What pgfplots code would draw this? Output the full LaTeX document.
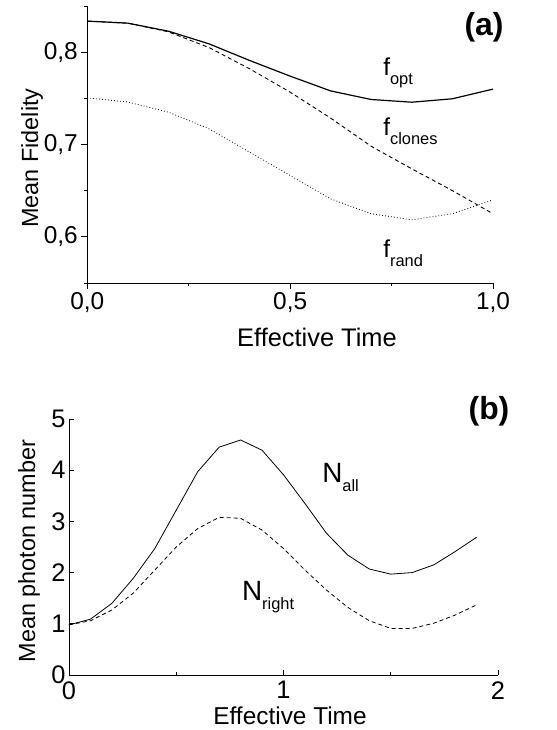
\documentclass[border=0pt]{standalone}
\usepackage{pgfplots}
\pgfplotsset{compat=1.18}
\usepackage{fontspec}
\setmainfont{Liberation Sans}

\newcommand\sub[1]{\raisebox{-9bp}{\fontsize{16.5}{16.5}\selectfont #1}}

\begin{document}
\begin{tikzpicture}[x=1bp,y=1bp]
\useasboundingbox (0,0) rectangle (557,730);

% panel (a)
\begin{axis}[scale only axis,width=405.7bp,height=277bp,
    at={(87.3bp,447bp)},anchor=south west,
    xmin=0,xmax=1,ymin=0.55,ymax=0.85,
    axis x line*=bottom,axis y line*=left,
    axis line style={line width=0.9bp},
    xtick={0,0.5,1},minor xtick={0.25,0.75},
    ytick={0.6,0.7,0.8},minor ytick={0.55,0.65,0.75,0.85},
    tick align=outside,major tick length=6bp,minor tick length=3bp,
    tick style={line width=0.9bp,black},
    /pgf/number format/assume math mode=true,
    /pgf/number format/use comma,/pgf/number format/fixed,
    /pgf/number format/fixed zerofill,/pgf/number format/precision=1,
    tick label style={font=\fontsize{24.5}{27}\selectfont},
    clip=false]
\addplot[black,line width=1.2bp] coordinates
  {(0,0.8336)(0.1,0.8314)(0.2,0.8227)(0.3,0.809)(0.4,0.791)(0.5,0.774)
   (0.6,0.758)(0.7,0.7487)(0.8,0.7458)(0.9,0.7495)(1.0,0.760)};
\addplot[black,line width=0.9bp,dash pattern=on 4bp off 3bp] coordinates
  {(0,0.8336)(0.1,0.8314)(0.2,0.8220)(0.3,0.805)(0.4,0.782)(0.5,0.7567)
   (0.6,0.7285)(0.7,0.698)(0.8,0.6736)(0.9,0.650)(1.0,0.625)};
\addplot[black,line width=0.8bp,dash pattern=on 0.8bp off 2.2bp] coordinates
  {(0,0.7505)(0.1,0.746)(0.2,0.735)(0.3,0.717)(0.4,0.6917)(0.5,0.6664)
   (0.6,0.641)(0.7,0.625)(0.8,0.6184)(0.9,0.625)(1.0,0.640)};
\node[anchor=base west,inner sep=0pt,font=\fontsize{24.5}{24.5}\selectfont] at (axis cs:0.729,0.7743) {f\sub{opt}};
\node[anchor=base west,inner sep=0pt,font=\fontsize{24.5}{24.5}\selectfont] at (axis cs:0.729,0.7092) {f\sub{clones}};
\node[anchor=base west,inner sep=0pt,font=\fontsize{24.5}{24.5}\selectfont] at (axis cs:0.729,0.578) {f\sub{rand}};
\end{axis}

% panel (b)
\begin{axis}[scale only axis,width=429bp,height=256bp,
    at={(69bp,55bp)},anchor=south west,
    xmin=0,xmax=2,ymin=0,ymax=5,
    axis x line*=bottom,axis y line*=left,
    axis line style={line width=0.9bp},
    xtick={0,1,2},minor xtick={0.5,1.5},
    ytick={0,1,2,3,4,5},
    tick align=inside,major tick length=5bp,minor tick length=3bp,
    tick style={line width=0.9bp,black},
    /pgf/number format/assume math mode=true,
    tick label style={font=\fontsize{25.5}{28}\selectfont},
    xticklabel style={yshift=-3bp},
    yticklabel style={xshift=0bp},
    clip=false]
\addplot[black,line width=0.8bp] coordinates
  {(0,0.98)(0.1,1.09)(0.2,1.40)(0.3,1.89)(0.4,2.47)(0.5,3.22)(0.6,3.97)
   (0.7,4.45)(0.8,4.59)(0.9,4.39)(1.0,3.91)(1.1,3.35)(1.2,2.77)(1.3,2.34)
   (1.4,2.07)(1.5,1.97)(1.6,2.00)(1.7,2.15)(1.8,2.41)(1.9,2.69)};
\addplot[black,line width=0.8bp,dash pattern=on 4bp off 3bp] coordinates
  {(0,0.98)(0.1,1.06)(0.2,1.27)(0.3,1.60)(0.4,2.05)(0.5,2.50)(0.6,2.86)
   (0.7,3.08)(0.8,3.06)(0.9,2.83)(1.0,2.47)(1.1,2.05)(1.2,1.66)(1.3,1.32)
   (1.4,1.06)(1.5,0.91)(1.6,0.91)(1.7,1.01)(1.8,1.17)(1.9,1.37)};
\node[anchor=base west,inner sep=0pt,font=\fontsize{28}{28}\selectfont] at (axis cs:1.18,3.75) {N\sub{all}};
\node[anchor=base west,inner sep=0pt,font=\fontsize{28}{28}\selectfont] at (axis cs:0.806,1.46) {N\sub{right}};
\end{axis}

% axis titles and panel labels
\node[anchor=base,inner sep=0pt,font=\fontsize{25.5}{28}\selectfont] at (317,383) {Effective Time};
\node[anchor=base,rotate=90,inner sep=0pt,font=\fontsize{23.5}{26}\selectfont] at (38,572) {Mean Fidelity};
\node[anchor=base,inner sep=0pt,font=\fontsize{24.5}{27}\selectfont] at (290,5) {Effective Time};
\node[anchor=base,rotate=90,inner sep=0pt,font=\fontsize{23.5}{26}\selectfont] at (35,179) {Mean photon number};
\node[inner sep=0pt,font=\fontsize{32}{32}\selectfont\bfseries] at (484,703) {(a)};
\node[inner sep=0pt,font=\fontsize{32}{32}\selectfont\bfseries] at (489,319) {(b)};
\end{tikzpicture}
\end{document}
